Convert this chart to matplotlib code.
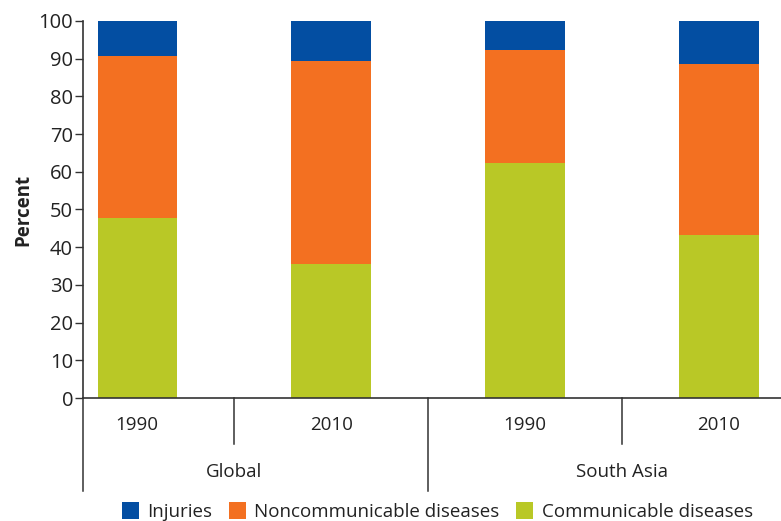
import numpy as np
import matplotlib
matplotlib.use('Agg')
import matplotlib.pyplot as plt
import matplotlib.transforms as mtransforms

plt.rcParams['font.family'] = ['Open Sans', 'DejaVu Sans']

# data
years = ['1990', '2010', '1990', '2010']
regions = ['Global', 'South Asia']
communicable = [47.7, 35.5, 62.3, 43.2]
noncommunicable = [43.0, 53.9, 30.0, 45.4]
injuries = [9.3, 10.6, 7.7, 11.4]

c_comm = '#b9c826'
c_ncd = '#f37021'
c_inj = '#034ea2'
dark = '#333333'
txt = '#222222'

fig = plt.figure(figsize=(7.81, 5.21), dpi=100)
ax = fig.add_axes([0.106, 0.236, 0.894, 0.724])

x = np.arange(len(years))
w = 0.41
bottom2 = np.array(communicable) + np.array(noncommunicable)
ax.bar(x, communicable, w, color=c_comm, label='Communicable diseases')
ax.bar(x, noncommunicable, w, bottom=communicable, color=c_ncd, label='Noncommunicable diseases')
ax.bar(x, injuries, w, bottom=bottom2, color=c_inj, label='Injuries')

ax.set_xlim(-0.281, 3.32)
ax.set_ylim(0, 100)
ax.set_yticks(np.arange(0, 101, 10))
ax.tick_params(axis='y', direction='out', length=6, width=1, color=dark,
               labelsize=14.5, labelcolor=txt, pad=1)
ax.set_xticks([])
ax.set_ylabel('Percent', fontsize=13.5, fontweight='bold', color=txt, labelpad=4)

for s in ['top', 'right']:
    ax.spines[s].set_visible(False)
for s in ['left', 'bottom']:
    ax.spines[s].set_color(dark)
    ax.spines[s].set_linewidth(1.2)

# two-level category axis
trans = mtransforms.blended_transform_factory(ax.transData, ax.transAxes)
for xs in [0.5, 2.5]:
    ax.plot([xs, xs], [0, -0.122], transform=trans, color=dark, lw=1.1, clip_on=False)
for xs in [-0.281, 1.5]:
    ax.plot([xs, xs], [0, -0.247], transform=trans, color=dark, lw=1.1, clip_on=False)
for xi, yr in zip(x, years):
    ax.text(xi, -0.072, yr, transform=trans, ha='center', va='center',
            fontsize=13.5, color=txt)
for xi, rg in zip([0.5, 2.5], regions):
    ax.text(xi, -0.196, rg, transform=trans, ha='center', va='center',
            fontsize=13.5, color=txt)

handles, labels = ax.get_legend_handles_labels()
leg = fig.legend(handles[::-1], labels[::-1], loc='center', ncol=3,
                 bbox_to_anchor=(0.56, 0.018), frameon=False, fontsize=13.5,
                 handlelength=0.9, handleheight=1.0, handletextpad=0.45,
                 columnspacing=0.9, borderaxespad=0)
for t in leg.get_texts():
    t.set_color(txt)

fig.savefig('out.png', dpi=100)
